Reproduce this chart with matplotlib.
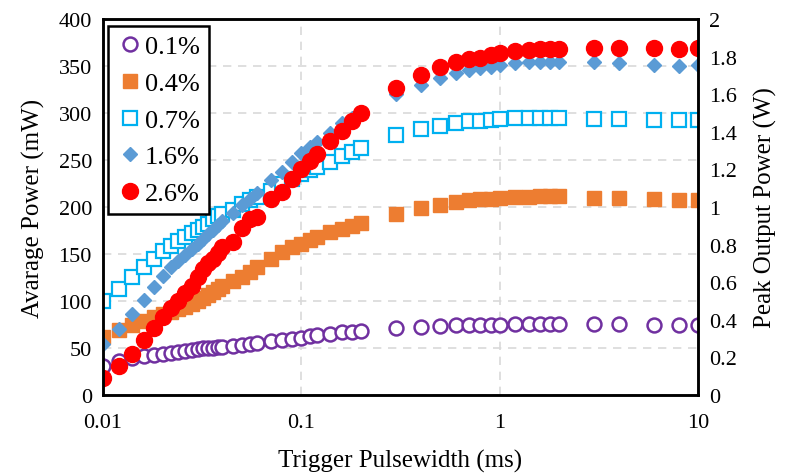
import numpy as np
import matplotlib
matplotlib.use('Agg')
import matplotlib.pyplot as plt
from matplotlib.ticker import FixedLocator, FormatStrFormatter

plt.rcParams['font.family'] = ['Liberation Serif', 'DejaVu Serif']

# pulse widths (ms)
X = [0.010, 0.012, 0.014, 0.016, 0.018, 0.020, 0.022, 0.024, 0.026, 0.028,
     0.030, 0.032, 0.034, 0.036, 0.038, 0.040, 0.045, 0.050, 0.055, 0.060,
     0.07, 0.08, 0.09, 0.10, 0.11, 0.12, 0.14, 0.16, 0.18, 0.20,
     0.3, 0.4, 0.5, 0.6, 0.7, 0.8, 0.9, 1.0, 1.2, 1.4, 1.6, 1.8, 2.0,
     3, 4, 6, 8, 10]

# average power (mW) per doping level
P_01 = [31, 36, 39, 41, 42.5, 44, 45, 46, 47, 48,
        49, 49.5, 50, 50.5, 51, 51.5, 52.5, 53.5, 54.5, 55.5,
        57, 58.5, 60, 61, 62.5, 63.5, 65, 66.5, 67.5, 68.5,
        71, 72.5, 73.5, 74, 74.5, 74.5, 75, 75, 75.5, 75.5, 75.5, 75.5, 75.5,
        75.5, 75.5, 74.5, 74.5, 74.5]
P_04 = [62, 69, 74, 79, 83, 86, 88, 91, 94, 97,
        100, 103, 106, 110, 113, 116, 121, 126, 131, 136,
        145, 152, 157, 161, 165, 168, 173, 177, 180, 183,
        193, 199, 202, 205, 207, 208.5, 209, 209.5, 211, 211, 211.5, 211.5, 211.5,
        210, 209.5, 208.5, 207.5, 207]
P_07 = [100, 113, 125, 136, 145, 153, 159, 164, 168, 172,
        176, 179, 182, 187, 190, 193, 197, 203, 207, 211,
        217, 224, 230, 235, 239, 243, 248, 254, 259, 263,
        277, 283, 286.5, 289, 291, 292, 293, 293.5, 294.5, 294.5, 294.5, 294.5, 294.5,
        293.5, 293.5, 292.5, 292.5, 292.5]
P_16 = [54, 70, 86, 101, 115, 127, 136, 143, 149, 155,
        161, 166, 171, 176, 181, 185, 194, 202, 209, 215,
        229, 237, 248, 257, 264, 269, 279, 289, 295, 300,
        320, 330, 337, 343, 346, 348, 349, 351, 353, 354, 354, 354, 354,
        354, 353, 351.5, 350.5, 351]
P_26 = [18, 31, 44, 58, 71, 83, 93, 100, 108, 116,
        125, 134, 140, 145, 151, 157, 163, 178, 187, 189,
        208, 216, 230, 240, 249, 256, 270, 281, 292, 300,
        327, 340, 348.5, 354, 357, 359, 361.5, 363.5, 366, 367, 368.5, 368.5, 368.5,
        369, 369, 369, 368.5, 369]

LABELS = ['0.1%', '0.4%', '0.7%', '1.6%', '2.6%']

fig = plt.figure(figsize=(7.89, 4.77), dpi=100)
ax = fig.add_axes([0.1306, 0.1698, 0.7541, 0.7883])

ax.plot(X, P_01, 'o', ms=10, mfc='white', mec='#7030A0', mew=1.8, label=LABELS[0], ls='none')
ax.plot(X, P_04, 's', ms=10, mfc='#ED7D31', mec='#ED7D31', label=LABELS[1], ls='none')
ax.plot(X, P_07, 's', ms=10, mfc='white', mec='#00B0F0', mew=1.6, label=LABELS[2], ls='none')
ax.plot(X, P_16, 'D', ms=7.5, mfc='#5B9BD5', mec='#5B9BD5', label=LABELS[3], ls='none')
ax.plot(X, P_26, 'o', ms=11.5, mfc='#FF0000', mec='#FF0000', label=LABELS[4], ls='none')

ax.set_xscale('log')
ax.set_xlim(0.01, 10)
ax.set_ylim(0, 400)
ax.xaxis.set_major_locator(FixedLocator([0.01, 0.1, 1, 10]))
ax.xaxis.set_minor_locator(FixedLocator([]))
ax.set_xticklabels(['0.01', '0.1', '1', '10'])
ax.set_yticks(np.arange(0, 401, 50))
ax.grid(True, color='#d9d9d9', linestyle=(0, (5, 4)), linewidth=1.2)
ax.set_axisbelow(True)
ax.tick_params(axis='both', length=0, labelsize=16, pad=8)
ax.tick_params(axis='x', pad=13)
for s in ax.spines.values():
    s.set_linewidth(1.8)
ax.set_xlabel('Trigger Pulsewidth (ms)', fontsize=18, labelpad=12)
ax.set_ylabel('Avarage Power (mW)', fontsize=18, labelpad=10)

ax2 = ax.twinx()
ax2.set_ylim(0, 2)
ax2.set_yticks(np.arange(0, 2.01, 0.2))
ax2.yaxis.set_major_formatter(FormatStrFormatter('%g'))
ax2.tick_params(axis='y', length=0, labelsize=16, pad=8)
for s in ax2.spines.values():
    s.set_linewidth(1.8)
ax2.set_ylabel('Peak Output Power (W)', fontsize=18, labelpad=12)

leg = ax.legend(loc='upper left', fontsize=19, frameon=True, fancybox=False,
                edgecolor='black', framealpha=1, borderpad=0.35, labelspacing=0.5,
                handletextpad=0.05, handlelength=1.0, markerscale=1.0,
                borderaxespad=0, bbox_to_anchor=(0.008, 0.982))
leg.get_frame().set_linewidth(1.8)

fig.savefig('out.png', dpi=100)
